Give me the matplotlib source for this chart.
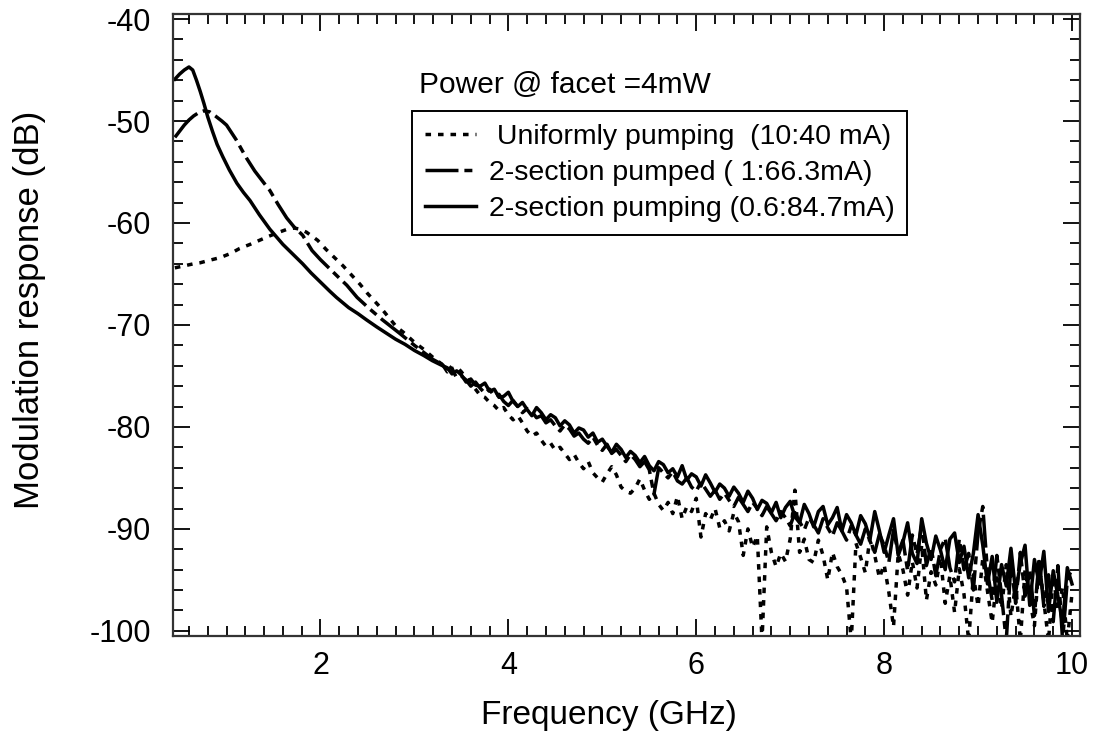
import matplotlib
matplotlib.use("Agg")
import matplotlib.pyplot as plt
from matplotlib.ticker import MultipleLocator

plt.rcParams['font.family'] = ['Liberation Sans', 'DejaVu Sans']
plt.rcParams['axes.unicode_minus'] = False

# smooth low-frequency part of each trace (GHz, dB)
freq_uni_head = [0.45, 0.55, 0.65, 0.72, 0.80, 0.93, 1.04, 1.14, 1.25, 1.35, 1.45,
                 1.56, 1.65, 1.72, 1.78, 1.85, 1.97, 2.06, 2.15, 2.24, 2.33, 2.42,
                 2.50, 2.58, 2.65, 2.73, 2.81, 2.88, 2.94, 3.00, 3.10, 3.20, 3.30]
resp_uni_head = [-64.4, -64.2, -64.0, -63.9, -63.7, -63.4, -63.0, -62.5, -62.1, -61.7, -61.3,
                 -60.9, -60.6, -60.5, -60.6, -60.9, -61.7, -62.6, -63.4, -64.2, -65.1, -66.0,
                 -66.9, -67.7, -68.4, -69.3, -70.2, -70.7, -71.2, -71.7, -72.4, -73.2, -73.9]

freq_1ma_head = [0.45, 0.50, 0.55, 0.60, 0.65, 0.70, 0.76, 0.82, 0.88, 0.95, 1.00,
                 1.10, 1.21, 1.30, 1.40, 1.46, 1.55, 1.64, 1.72, 1.81, 1.91, 2.00,
                 2.10, 2.20, 2.28, 2.39, 2.52, 2.66, 2.84, 3.00, 3.10, 3.20, 3.30]
resp_1ma_head = [-51.6, -51.0, -50.4, -49.9, -49.5, -49.2, -49.0, -49.1, -49.5, -50.0, -50.4,
                 -51.8, -53.6, -54.9, -56.1, -56.8, -58.2, -59.5, -60.4, -61.2, -62.7, -63.6,
                 -64.5, -65.4, -66.1, -67.3, -68.4, -69.5, -70.8, -72.0, -72.7, -73.4, -73.9]

freq_06ma_head = [0.45, 0.50, 0.55, 0.60, 0.64, 0.68, 0.72, 0.76, 0.80, 0.85, 0.90, 0.96,
                  1.03, 1.11, 1.18, 1.25, 1.35, 1.46, 1.60, 1.70, 1.81, 1.90, 2.00, 2.10,
                  2.17, 2.30, 2.40, 2.49, 2.60, 2.70, 2.80, 2.90, 3.00, 3.10, 3.19, 3.30]
resp_06ma_head = [-45.9, -45.4, -45.0, -44.7, -45.0, -46.0, -47.1, -48.3, -49.6, -51.0, -52.3, -53.5,
                  -54.8, -56.1, -57.0, -57.8, -59.2, -60.6, -62.1, -63.0, -64.0, -64.9, -65.8, -66.7,
                  -67.3, -68.3, -68.9, -69.5, -70.2, -70.8, -71.4, -71.9, -72.5, -73.0, -73.5, -74.0]

# noisy high-frequency part, read every 0.05 GHz
freq_tail = [3.35, 3.40, 3.45, 3.50, 3.55, 3.60, 3.65, 3.70, 3.75, 3.80,
             3.85, 3.90, 3.95, 4.00, 4.05, 4.10, 4.15, 4.20, 4.25, 4.30,
             4.35, 4.40, 4.45, 4.50, 4.55, 4.60, 4.65, 4.70, 4.75, 4.80,
             4.85, 4.90, 4.95, 5.00, 5.05, 5.10, 5.15, 5.20, 5.25, 5.30,
             5.35, 5.40, 5.45, 5.50, 5.55, 5.60, 5.65, 5.70, 5.75, 5.80,
             5.85, 5.90, 5.95, 6.00, 6.05, 6.10, 6.15, 6.20, 6.25, 6.30,
             6.35, 6.40, 6.45, 6.50, 6.55, 6.60, 6.65, 6.70, 6.75, 6.80,
             6.85, 6.90, 6.95, 7.00, 7.05, 7.10, 7.15, 7.20, 7.25, 7.30,
             7.35, 7.40, 7.45, 7.50, 7.55, 7.60, 7.65, 7.70, 7.75, 7.80,
             7.85, 7.90, 7.95, 8.00, 8.05, 8.10, 8.15, 8.20, 8.25, 8.30,
             8.35, 8.40, 8.45, 8.50, 8.55, 8.60, 8.65, 8.70, 8.75, 8.80,
             8.85, 8.90, 8.95, 9.00, 9.05, 9.10, 9.15, 9.20, 9.25, 9.30,
             9.35, 9.40, 9.45, 9.50, 9.55, 9.60, 9.65, 9.70, 9.75, 9.80,
             9.85, 9.90, 9.95, 10.00]

resp_uni_tail = [-73.9, -74.3, -74.1, -74.6, -75.2, -75.7, -76.3, -76.9, -77.1, -77.6,
                 -77.9, -78.4, -78.1, -78.8, -79.3, -78.9, -79.6, -80.4, -80.9, -80.6,
                 -81.3, -81.9, -81.6, -82.3, -82.0, -82.6, -83.2, -82.7, -83.5, -84.1,
                 -83.4, -84.5, -85.0, -85.4, -84.6, -83.9, -84.7, -85.9, -86.3, -86.5,
                 -86.0, -85.1, -86.2, -87.1, -86.5, -87.6, -88.2, -87.4, -88.5, -86.8,
                 -89.0, -87.8, -88.3, -87.0, -90.8, -88.5, -89.1, -88.0, -89.9, -89.2,
                 -90.2, -88.4, -89.3, -92.6, -90.0, -91.8, -90.7, -101.0, -89.8, -92.3,
                 -93.7, -92.4, -93.2, -91.0, -86.2, -92.3, -91.0, -93.0, -93.3, -91.1,
                 -92.6, -95.0, -92.3, -93.7, -94.5, -95.7, -101.0, -91.4, -92.8, -94.3,
                 -90.8, -92.6, -94.8, -93.5, -96.2, -99.6, -92.4, -94.0, -96.5, -93.2,
                 -95.8, -91.6, -97.0, -94.2, -95.5, -92.8, -97.3, -94.6, -98.2, -93.9,
                 -96.4, -101.0, -94.5, -97.6, -92.9, -96.1, -99.2, -94.8, -97.8, -93.5,
                 -98.6, -95.4, -101.0, -94.0, -96.9, -99.5, -93.2, -97.1, -101.0, -94.6,
                 -98.0, -95.7, -101.0, -96.3]

resp_1ma_tail = [-74.6, -74.3, -75.2, -75.0, -75.4, -76.0, -75.6, -76.2, -76.7, -76.3,
                 -77.0, -76.8, -77.5, -77.9, -77.4, -78.0, -78.6, -78.2, -78.5, -79.1,
                 -78.9, -79.6, -79.3, -79.9, -80.4, -79.8, -80.2, -80.9, -80.6, -81.2,
                 -81.6, -81.0, -81.8, -82.3, -81.7, -82.6, -82.2, -82.8, -83.4, -82.7,
                 -83.2, -83.9, -83.4, -84.2, -86.6, -84.0, -84.5, -85.0, -84.4, -85.3,
                 -85.6, -85.0, -85.9, -86.3, -85.4, -86.1, -86.8, -86.2, -87.1, -86.5,
                 -87.2, -87.8, -86.9, -87.6, -88.3, -87.4, -88.0, -88.7, -87.8, -88.5,
                 -89.2, -88.3, -88.9, -89.7, -88.4, -89.3, -90.1, -88.9, -89.6, -90.4,
                 -89.0, -89.9, -90.7, -89.4, -90.2, -91.1, -89.7, -90.6, -91.5, -90.0,
                 -91.2, -92.3, -90.5, -91.6, -93.3, -90.1, -92.4, -91.1, -94.1, -90.6,
                 -92.5, -89.6, -93.6, -91.8, -94.6, -92.0, -90.9, -93.8, -95.2, -91.0,
                 -94.0, -92.4, -96.0, -90.4, -87.8, -94.2, -97.0, -92.6, -96.5, -101.0,
                 -93.3, -97.3, -92.3, -96.6, -94.0, -98.5, -92.9, -97.6, -94.5, -99.1,
                 -93.6, -101.0, -95.0, -93.9]

resp_06ma_tail = [-74.2, -74.8, -74.5, -74.9, -75.6, -75.3, -75.9, -76.0, -75.7, -76.5,
                  -76.3, -77.1, -77.0, -76.6, -77.5, -78.0, -77.6, -78.3, -78.9, -78.1,
                  -78.6, -79.3, -78.8, -79.1, -79.9, -79.4, -79.8, -80.6, -80.1, -80.3,
                  -81.0, -80.6, -81.5, -81.2, -81.9, -82.5, -81.7, -82.2, -83.0, -82.4,
                  -82.8, -83.5, -82.9, -83.8, -84.3, -83.4, -83.7, -84.5, -84.1, -84.9,
                  -83.8, -85.2, -84.6, -84.9, -85.8, -84.7, -85.5, -86.4, -85.6, -86.0,
                  -86.8, -85.9, -86.5, -87.4, -86.3, -87.0, -88.1, -87.2, -87.5, -88.4,
                  -87.4, -88.9, -87.9, -87.3, -88.8, -89.4, -87.6, -88.5, -89.8, -88.3,
                  -87.8, -89.6, -88.9, -87.9, -90.2, -88.6, -89.4, -90.6, -88.7, -89.5,
                  -91.0, -88.3, -90.2, -92.3, -90.6, -89.0, -92.6, -91.3, -89.4, -92.4,
                  -93.4, -89.0, -91.4, -93.0, -90.7, -92.1, -94.0, -91.0, -90.4, -93.3,
                  -91.7, -94.8, -92.4, -88.6, -91.6, -95.4, -92.7, -97.2, -93.5, -95.6,
                  -91.9, -96.2, -93.4, -91.6, -97.5, -93.0, -95.4, -92.2, -98.1, -94.1,
                  -96.6, -99.3, -93.8, -95.4]

labels = [' Uniformly pumping  (10:40 mA)',
          '2-section pumped ( 1:66.3mA)',
          '2-section pumping (0.6:84.7mA)']

fig = plt.figure(figsize=(10.97, 7.46), dpi=100)
ax = fig.add_axes([0.1577, 0.1475, 0.8268, 0.8338])

ax.plot(freq_uni_head + freq_tail, resp_uni_head + resp_uni_tail, color='black',
        lw=2.5, linestyle=(0, (1.6, 2.0)), label=labels[0])
ax.plot(freq_1ma_head + freq_tail, resp_1ma_head + resp_1ma_tail, color='black',
        lw=2.5, linestyle=(0, (9.5, 1.7, 2.3, 1.7)), label=labels[1])
ax.plot(freq_06ma_head + freq_tail, resp_06ma_head + resp_06ma_tail, color='black',
        lw=2.5, linestyle='-', label=labels[2])

ax.set_xlim(0.43, 10.085)
ax.set_ylim(-100.5, -39.5)

ax.xaxis.set_major_locator(MultipleLocator(2))
ax.xaxis.set_minor_locator(MultipleLocator(0.2))
ax.yaxis.set_major_locator(MultipleLocator(10))
ax.yaxis.set_minor_locator(MultipleLocator(2))
ax.tick_params(which='both', direction='in', top=True, right=True, width=1.3, labelsize=22)
ax.tick_params(which='major', length=12)
ax.tick_params(which='minor', length=7)
ax.tick_params(axis='y', pad=16)
ax.tick_params(axis='x', pad=11)
for sp in ax.spines.values():
    sp.set_linewidth(1.6)
    sp.set_color('#333333')

ax.set_xlabel('Frequency (GHz)', fontsize=24)
ax.set_ylabel('Modulation response (dB)', fontsize=25)
ax.xaxis.set_label_coords(0.481, -0.103)
ax.yaxis.set_label_coords(-0.14, 0.524)

ax.text(0.271, 0.885, 'Power @ facet =4mW', transform=ax.transAxes,
        fontsize=21.5, va='center', ha='left')

leg = ax.legend(loc='upper left', bbox_to_anchor=(0.2635, 0.844), borderaxespad=0,
                fontsize=20.5, handlelength=1.8, handletextpad=0.45, labelspacing=0.35,
                borderpad=0.45, fancybox=False, framealpha=1, edgecolor='black')
leg.get_frame().set_linewidth(1.4)

fig.savefig('out.png', dpi=100)
